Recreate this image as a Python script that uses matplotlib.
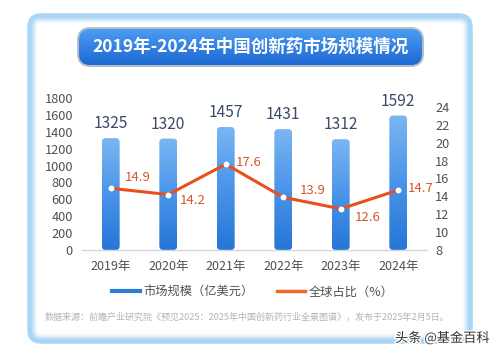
import numpy as np
import matplotlib
matplotlib.use("Agg")
import matplotlib.pyplot as plt
from matplotlib.patches import FancyBboxPatch
from matplotlib.lines import Line2D
from matplotlib.colors import LinearSegmentedColormap
import matplotlib.patheffects as pe

plt.rcParams['font.family'] = ['Noto Sans CJK SC', 'DejaVu Sans']

# ---- data ----
years = ['2019年', '2020年', '2021年', '2022年', '2023年', '2024年']
market_size = [1325, 1320, 1457, 1431, 1312, 1592]      # 亿美元
global_share = [14.9, 14.2, 17.6, 13.9, 12.6, 14.7]      # %
left_ticks = [0, 200, 400, 600, 800, 1000, 1200, 1400, 1600, 1800]
right_ticks = [8, 10, 12, 14, 16, 18, 20, 22, 24]
title = '2019年-2024年中国创新药市场规模情况'
legend_labels = ['市场规模（亿美元）', '全球占比（%）']
source = '数据来源：前瞻产业研究院《预见2025：2025年中国创新药行业全景图谱》，发布于2025年2月5日。'
watermark = '头条 @基金百科'

# label offsets for share labels (pixels) -- styling only
share_offsets = [(27, 11), (24, -6), (23, 2), (29, 7), (27, -9), (22, 2)]

W, H = 500, 356
fig = plt.figure(figsize=(W / 100, H / 100), dpi=100)
fig.patch.set_facecolor('white')

# ---- background decorations in pixel coordinates ----
bg = fig.add_axes([0, 0, 1, 1], zorder=0)
bg.set_xlim(0, W)
bg.set_ylim(H, 0)
bg.axis('off')

# card glow
for i in range(9):
    a = 0.55 * (1 - i / 9) ** 1.6
    card = FancyBboxPatch((29 + i, 15 + i), 442 - 2 * i, 327 - 2 * i,
                          boxstyle="round,pad=0,rounding_size=%d" % max(12 - i, 3),
                          facecolor='none', edgecolor='#7cc0f2', lw=1.6, alpha=a)
    bg.add_patch(card)
card = FancyBboxPatch((29, 15), 442, 327, boxstyle="round,pad=0,rounding_size=12",
                      facecolor='none', edgecolor='#a9d6f6', lw=2.5)
bg.add_patch(card)

# title banner
banner = FancyBboxPatch((79, 29), 343, 36, boxstyle="round,pad=0,rounding_size=11",
                        facecolor='#2a78dc', edgecolor='#b4bcc8', lw=2.8)
bg.add_patch(banner)
grad = np.linspace(0, 1, 100).reshape(-1, 1)
bcmap = LinearSegmentedColormap.from_list('b', ['#4c9cf2', '#1d68d2'])
im = bg.imshow(grad, extent=(79, 422, 65, 29), aspect='auto', cmap=bcmap, zorder=2)
im.set_clip_path(banner)
bg.text(251, 47, title, color='white', fontsize=12.6, fontweight='bold',
        ha='center', va='center', zorder=3)

# source and watermark
bg.text(45, 317, source, fontsize=6.5, color='#b0b4ba', ha='left', va='center')
bg.text(490, 338, watermark, fontsize=9.5, color='#333333', ha='right', va='center',
        path_effects=[pe.withStroke(linewidth=2, foreground='white')])

# ---- chart ----
ax = fig.add_axes([82 / W, 106 / H, 345 / W, 152 / H], zorder=1)
ax.patch.set_alpha(0)
x = np.arange(len(years))
bars = ax.bar(x, market_size, width=0.31, color='#3d8ce6', alpha=0.0)

gcmap = LinearSegmentedColormap.from_list('g', ['#2676d6', '#4a94ea', '#7ab6f2'])
gimg = np.linspace(0, 1, 200).reshape(-1, 1)
px_per_x = 345 / 6.0
px_per_y = 152 / 1800.0
for b in bars:
    x0, w, h = b.get_x(), b.get_width(), b.get_height()
    rr = 4.0 / px_per_x
    clip = FancyBboxPatch((x0, 0), w, h,
                          boxstyle="round,pad=0,rounding_size=%f" % rr,
                          mutation_aspect=px_per_x / px_per_y,
                          facecolor='none', edgecolor='none', transform=ax.transData)
    ax.add_patch(clip)
    gi = ax.imshow(gimg, extent=(x0, x0 + w, 0, h), origin='lower', aspect='auto',
                   cmap=gcmap, zorder=2)
    gi.set_clip_path(clip)
    ax.annotate(str(b.get_height()), (b.get_x() + w / 2, h), xytext=(0, 6),
                textcoords='offset pixels', ha='center', va='bottom',
                fontsize=11.2, color='#3b4a66', zorder=5)

ax.set_xlim(-0.5, len(years) - 0.5)
ax.set_ylim(0, 1800)
ax.set_yticks(left_ticks)
ax.set_xticks(x)
ax.set_xticklabels(years)
for s in ['top', 'right', 'left']:
    ax.spines[s].set_visible(False)
ax.spines['bottom'].set_color('#d4d6da')
ax.spines['bottom'].set_linewidth(1.0)
ax.tick_params(axis='y', length=0, pad=6.5, labelsize=9.2, labelcolor='#4e5058')
ax.tick_params(axis='x', length=0, pad=7, labelsize=9, labelcolor='#4e5058')

ax2 = ax.twinx()
ax2.set_ylim(8, 25)
ax2.set_yticks(right_ticks)
for s in ['top', 'right', 'left', 'bottom']:
    ax2.spines[s].set_visible(False)
ax2.tick_params(axis='y', length=0, pad=6, labelsize=9.2, labelcolor='#4e5058')
ax2.plot(x, global_share, color='#e8501e', lw=2.2, zorder=3,
         marker='o', ms=3.2, mfc='white', mec='white', solid_joinstyle='round')
for xi, v, (dx, dy) in zip(x, global_share, share_offsets):
    ax2.annotate('%.1f' % v, (xi, v), xytext=(dx, dy), textcoords='offset pixels',
                 ha='center', va='center', fontsize=9.5, color='#d9532c', zorder=5)

handles = [Line2D([], [], color='#2f7bd8', lw=3.0),
           Line2D([], [], color='#ec6a2a', lw=2.5)]
fig.legend(handles, legend_labels, loc='center', bbox_to_anchor=(253 / W, 1 - 292 / H),
           ncol=2, frameon=False, fontsize=8.8, handlelength=2.3, handletextpad=0.3,
           columnspacing=1.9, labelcolor='#4e5058')

fig.savefig('out.png', dpi=100)
